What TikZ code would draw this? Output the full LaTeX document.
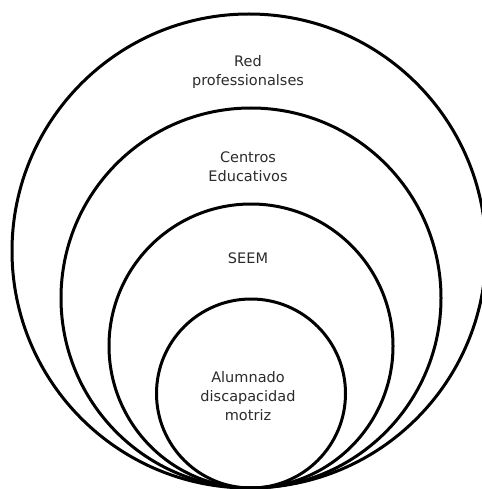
\documentclass[tikz,border=0pt]{standalone}
\usepackage{fontspec}
\setmainfont{DejaVu Sans}
\definecolor{txt}{HTML}{2B2B2B}
\begin{document}
\begin{tikzpicture}[x=1pt,y=-1pt,
  ring/.style={draw=black,line width=3pt},
  lbl/.style={align=center,text=txt,font=\fontsize{14.5}{19}\selectfont,inner sep=0pt}]
\useasboundingbox (0,0) rectangle (481,489);
\draw[ring] (249,251) circle[radius=237];
\draw[ring] (251,298) circle[radius=190];
\draw[ring] (251,346) circle[radius=142];
\draw[ring] (251,393.5) circle[radius=94.5];
\node[lbl] (red) at (248,72.5) {Red\\professionalses};
\node[lbl] (cen) at (248,166.5) {Centros\\Educativos};
\node[lbl] (seem) at (248,258) {SEEM};
\node[lbl] (alu) at (248,396) {Alumnado\\discapacidad\\motriz};
\end{tikzpicture}
\end{document}
